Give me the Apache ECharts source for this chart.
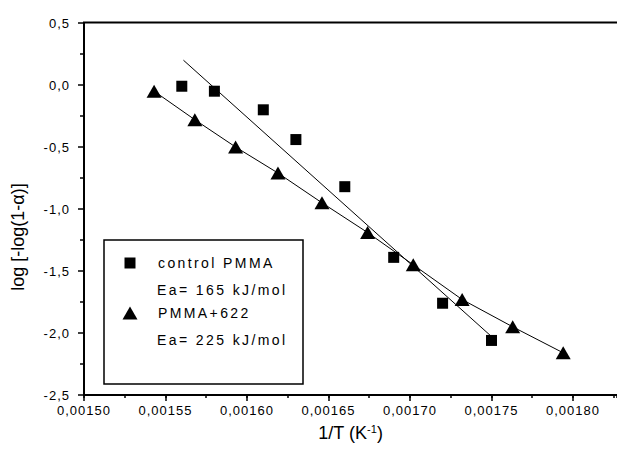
<!DOCTYPE html>
<html><head><meta charset="utf-8">
<script src="https://cdn.jsdelivr.net/npm/echarts@6/dist/echarts.min.js"></script>
<style>html,body{margin:0;padding:0;background:#fff;overflow:hidden}#c{width:617px;height:461px}</style>
</head><body><div id="c"></div>
<script>
// control PMMA (squares)
const controlX = [0.00156, 0.00158, 0.00161, 0.00163, 0.00166, 0.00169, 0.00172, 0.00175];
const controlY = [-0.01, -0.05, -0.20, -0.44, -0.82, -1.39, -1.76, -2.06];
// linear fit for control PMMA (end points of the fitted line)
const controlFitX = [0.001561, 0.001751];
const controlFitY = [0.20, -2.04];
// PMMA+622 (triangles)
const pmmaX = [0.001543, 0.001568, 0.001593, 0.001619, 0.001646, 0.001674, 0.001702, 0.001732, 0.001763, 0.001794];
const pmmaY = [-0.05, -0.28, -0.50, -0.71, -0.95, -1.19, -1.45, -1.73, -1.95, -2.16];
// tick labels
const xTickValues = [0.00150, 0.00155, 0.00160, 0.00165, 0.00170, 0.00175, 0.00180];
const xTickLabels = ['0,00150', '0,00155', '0,00160', '0,00165', '0,00170', '0,00175', '0,00180'];
const yTickValues = [0.5, 0.0, -0.5, -1.0, -1.5, -2.0, -2.5];
const yTickLabels = ['0,5', '0,0', '-0,5', '-1,0', '-1,5', '-2,0', '-2,5'];
const legendLabels = ['control PMMA', 'Ea= 165 kJ/mol', 'PMMA+622', 'Ea= 225 kJ/mol'];

function lookup(vals, labels, v) {
  for (let i = 0; i < vals.length; i++) if (Math.abs(vals[i] - v) < 1e-9) return labels[i];
  return '';
}
const zip = (a, b) => a.map((v, i) => [v, b[i]]);
const FONT = '"Liberation Sans", Arial, sans-serif';
const X_MIN = 0.0015, X_MAX = 0.001827;

const chart = echarts.init(document.getElementById('c'), null, {renderer: 'svg'});
chart.setOption({
  animation: false,
  backgroundColor: '#fff',
  grid: {show: false, left: 84, top: 23, right: 0, bottom: 66, containLabel: false},
  xAxis: [{
    type: 'value', min: X_MIN, max: X_MAX, interval: 0.00005, position: 'bottom',
    axisLine: {show: true, onZero: false, lineStyle: {color: '#000', width: 2}},
    axisTick: {show: true, inside: false, length: 6, lineStyle: {color: '#000', width: 1.5}},
    minorTick: {show: false},
    splitLine: {show: false}, minorSplitLine: {show: false},
    axisLabel: {margin: 9, color: '#000', fontSize: 13, fontFamily: FONT, showMaxLabel: false,
      formatter: v => lookup(xTickValues, xTickLabels, v)},
    name: '1/T (K{sup|-1})', nameLocation: 'middle', nameGap: 28,
    nameTextStyle: {color: '#000', fontSize: 18, fontFamily: FONT,
      rich: {sup: {fontSize: 11, fontFamily: FONT, color: '#000', verticalAlign: 'top', padding: [0, 0, 9, 0]}}}
  }, {
    type: 'value', min: X_MIN, max: X_MAX, interval: 0.000025, position: 'bottom',
    axisLine: {show: false, onZero: false},
    axisTick: {show: true, inside: false, length: 3, lineStyle: {color: '#000', width: 1.5}},
    axisLabel: {show: false}, splitLine: {show: false}
  }],
  yAxis: {
    type: 'value', min: -2.5, max: 0.5, interval: 0.5,
    axisLine: {show: true, onZero: false, lineStyle: {color: '#000', width: 2}},
    axisTick: {show: true, inside: false, length: 6, lineStyle: {color: '#000', width: 1.5}},
    minorTick: {show: true, splitNumber: 2, length: 4, lineStyle: {color: '#000', width: 1.5}},
    splitLine: {show: false}, minorSplitLine: {show: false},
    axisLabel: {margin: 14, color: '#000', fontSize: 13, fontFamily: FONT,
      formatter: v => lookup(yTickValues, yTickLabels, v)},
    name: 'log [-log(1-α)]', nameLocation: 'middle', nameGap: 57,
    nameTextStyle: {color: '#000', fontSize: 18, fontFamily: FONT, padding: [0, 56, 0, 0]}
  },
  series: [{
    name: 'control PMMA', type: 'scatter', data: zip(controlX, controlY),
    symbol: 'rect', symbolSize: 11, itemStyle: {color: '#000', opacity: 1}, z: 5
  }, {
    name: 'control PMMA fit', type: 'line', data: zip(controlFitX, controlFitY),
    symbol: 'none', lineStyle: {color: '#000', width: 1}, z: 3
  }, {
    name: 'PMMA+622', type: 'line', data: zip(pmmaX, pmmaY),
    symbol: 'triangle', symbolSize: [15, 13], showAllSymbol: true,
    itemStyle: {color: '#000', opacity: 1}, lineStyle: {color: '#000', width: 1}, z: 4
  }],
  graphic: [
    {type: 'rect', z: 99, shape: {x: 607, y: 24, width: 10, height: 369}, style: {fill: '#fff'}},
    {type: 'line', z: 100, shape: {x1: 83, y1: 22.5, x2: 617, y2: 22.5}, style: {stroke: '#000', lineWidth: 2}},
    {type: 'rect', z: 100, shape: {x: 104, y: 240, width: 199, height: 144},
      style: {fill: '#fff', stroke: '#000', lineWidth: 1.5}},
    {type: 'rect', z: 101, shape: {x: 124.5, y: 257.5, width: 11, height: 11}, style: {fill: '#000'}},
    {type: 'polygon', z: 101, shape: {points: [[130, 306.5], [137.5, 319.5], [122.5, 319.5]]}, style: {fill: '#000'}},
    {type: 'text', z: 101, x: 158, y: 263, style: {text: legendLabels[0], fill: '#000', fontSize: 14, fontFamily: FONT, verticalAlign: 'middle'}},
    {type: 'text', z: 101, x: 157, y: 290, style: {text: legendLabels[1], fill: '#000', fontSize: 14, fontFamily: FONT, verticalAlign: 'middle'}},
    {type: 'text', z: 101, x: 158, y: 313, style: {text: legendLabels[2], fill: '#000', fontSize: 14, fontFamily: FONT, verticalAlign: 'middle'}},
    {type: 'text', z: 101, x: 157, y: 340, style: {text: legendLabels[3], fill: '#000', fontSize: 14, fontFamily: FONT, verticalAlign: 'middle'}}
  ]
});

// letter spacing as in the reference typesetting
function spaceTexts() {
  document.querySelectorAll('#c svg text').forEach(t => {
    const s = t.textContent;
    let ls = 1;
    if (legendLabels.indexOf(s) >= 0) ls = 2.4;
    else if (s.indexOf('log') >= 0 || s.indexOf('1/T') >= 0 || s === '-1' || s === ')') ls = 0;
    t.setAttribute('letter-spacing', ls + 'px');
  });
}
spaceTexts();
chart.on('finished', spaceTexts);
</script></body></html>
